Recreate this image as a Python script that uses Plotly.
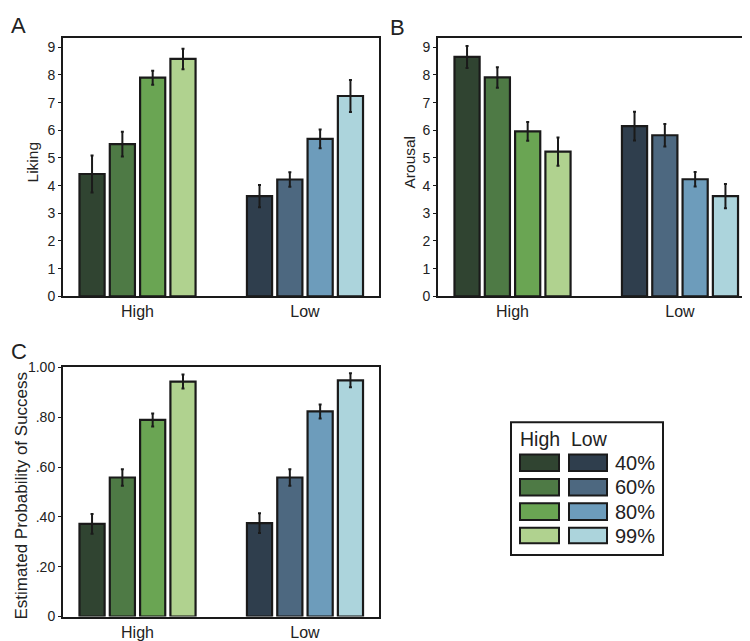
import plotly.graph_objects as go

# ---- data ----
groups = ["High", "Low"]
levels = ["40%", "60%", "80%", "99%"]

liking_high = [4.42, 5.50, 7.90, 8.58]
liking_low = [3.62, 4.22, 5.69, 7.24]
liking_err_high = [0.67, 0.45, 0.25, 0.37]
liking_err_low = [0.40, 0.26, 0.34, 0.58]

arousal_high = [8.65, 7.91, 5.96, 5.23]
arousal_low = [6.15, 5.82, 4.23, 3.62]
arousal_err_high = [0.40, 0.37, 0.34, 0.51]
arousal_err_low = [0.52, 0.41, 0.26, 0.44]

prob_high = [0.372, 0.558, 0.789, 0.943]
prob_low = [0.375, 0.558, 0.823, 0.948]
prob_err_high = [0.040, 0.033, 0.026, 0.028]
prob_err_low = [0.040, 0.033, 0.028, 0.028]

liking_ticks = [0, 1, 2, 3, 4, 5, 6, 7, 8, 9]
arousal_ticks = [0, 1, 2, 3, 4, 5, 6, 7, 8, 9]
prob_ticks = [0, 0.2, 0.4, 0.6, 0.8, 1.0]
prob_ticklabels = ["0", ".20", ".40", ".60", ".80", "1.00"]

green = ["#304431", "#4e7a45", "#6aa553", "#b0d28f"]
blue = ["#2f3e4d", "#4d6880", "#6d9cbb", "#acd4dc"]

W, H = 750, 641
FONT = "Liberation Sans, Arial, Helvetica, sans-serif"
TXT = "#222222"

def px(x):
    return x / W

def py(y):
    return 1 - y / H

fig = go.Figure()

panels = [
    ("x", "y", liking_high, liking_low, liking_err_high, liking_err_low),
    ("x2", "y2", arousal_high, arousal_low, arousal_err_high, arousal_err_low),
    ("x3", "y3", prob_high, prob_low, prob_err_high, prob_err_low),
]

for xa, ya, hi, lo, ehi, elo in panels:
    for i, lev in enumerate(levels):
        fig.add_trace(go.Bar(
            x=groups, y=[hi[i], lo[i]], name=lev,
            xaxis=xa, yaxis=ya, showlegend=False,
            offsetgroup=str(i),
            marker=dict(color=[green[i], blue[i]],
                        line=dict(color="#1a1a1a", width=2.2)),
            error_y=dict(type="data", array=[ehi[i], elo[i]],
                         color="#1a1a1a", thickness=2, width=1.5),
        ))

line_common = dict(showline=True, linecolor="#1a1a1a", linewidth=2, mirror=True,
                   showgrid=False, zeroline=False)
yaxis_common = dict(ticks="outside", ticklen=3, tickcolor="#1a1a1a",
                    tickfont=dict(size=14, color=TXT, family=FONT), **line_common)
xaxis_common = dict(ticks="", tickfont=dict(size=16, color=TXT, family=FONT), **line_common)

xrange = [-0.445, 1.442]
fig.update_layout(
    width=W, height=H, margin=dict(l=0, r=0, t=0, b=0),
    paper_bgcolor="white", plot_bgcolor="white",
    barmode="group", bargap=0.276, bargroupgap=0.17,
    font=dict(family=FONT, color=TXT),
    xaxis=dict(domain=[px(55), px(371)], anchor="y", range=xrange, **xaxis_common),
    yaxis=dict(domain=[py(288), py(24)], anchor="x", range=[0, 9.32], tickvals=liking_ticks, **yaxis_common),
    xaxis2=dict(domain=[px(430), px(746)], anchor="y2", range=xrange, **xaxis_common),
    yaxis2=dict(domain=[py(288), py(24)], anchor="x2", range=[0, 9.32], tickvals=arousal_ticks, **yaxis_common),
    xaxis3=dict(domain=[px(55), px(371)], anchor="y3", range=xrange, **xaxis_common),
    yaxis3=dict(domain=[py(616), py(360)], anchor="x3", range=[0, 1.003], tickvals=prob_ticks,
                ticktext=prob_ticklabels, **yaxis_common),
)

ann = []
# panel letters
for txt, x, y in [("A", 1, 11), ("B", 380, 13), ("C", 1, 345)]:
    ann.append(dict(text=txt, x=px(x), y=py(y), xref="paper", yref="paper",
                    xanchor="left", yanchor="middle", showarrow=False,
                    font=dict(size=22, color=TXT, family=FONT)))
# axis titles
for txt, x, y, s in [("Liking", 24, 151, 15.5), ("Arousal", 401, 150, 15.5),
                     ("Estimated Probability of Success", 13, 492, 17)]:
    ann.append(dict(text=txt, x=px(x), y=py(y), xref="paper", yref="paper",
                    xanchor="center", yanchor="middle", showarrow=False, textangle=-90,
                    font=dict(size=s, color=TXT, family=FONT)))

shapes = []
# legend box
shapes.append(dict(type="rect", xref="paper", yref="paper",
                   x0=px(503), x1=px(655), y0=py(553), y1=py(417),
                   line=dict(color="#1a1a1a", width=2), fillcolor="white"))
ann.append(dict(text="High", x=px(510), y=py(434), xref="paper", yref="paper",
                xanchor="left", yanchor="middle", showarrow=False,
                font=dict(size=19.5, color=TXT, family=FONT)))
ann.append(dict(text="Low", x=px(561), y=py(434), xref="paper", yref="paper",
                xanchor="left", yanchor="middle", showarrow=False,
                font=dict(size=19.5, color=TXT, family=FONT)))
rows = [(450, 467), (475, 492), (500, 517), (525, 541)]
for i, (y0, y1) in enumerate(rows):
    shapes.append(dict(type="rect", xref="paper", yref="paper",
                       x0=px(512), x1=px(551), y0=py(y1), y1=py(y0),
                       line=dict(color="#1a1a1a", width=2), fillcolor=green[i]))
    shapes.append(dict(type="rect", xref="paper", yref="paper",
                       x0=px(561), x1=px(599), y0=py(y1), y1=py(y0),
                       line=dict(color="#1a1a1a", width=2), fillcolor=blue[i]))
    ann.append(dict(text=levels[i], x=px(605), y=py((y0 + y1) / 2), xref="paper", yref="paper",
                    xanchor="left", yanchor="middle", showarrow=False,
                    font=dict(size=20, color=TXT, family=FONT)))

fig.update_layout(annotations=ann, shapes=shapes)
fig.write_html("out.html")
